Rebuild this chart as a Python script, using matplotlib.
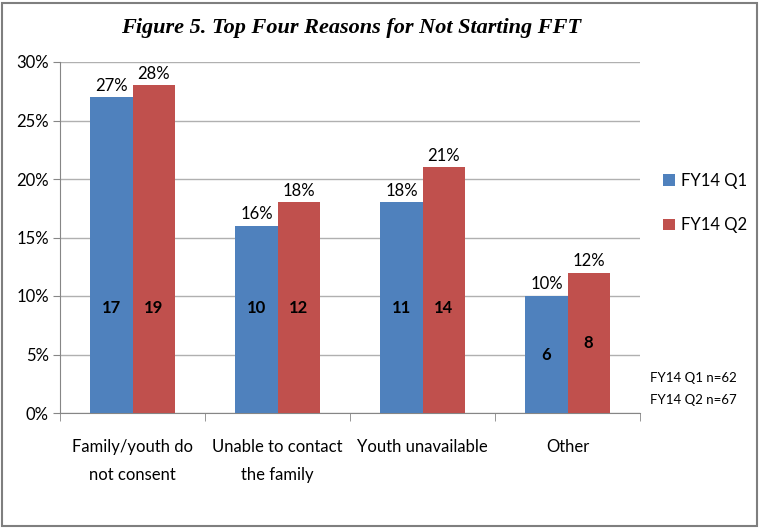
import numpy as np
import matplotlib.pyplot as plt
from matplotlib.patches import Rectangle

categories = ["Family/youth do\nnot consent", "Unable to contact\nthe family", "Youth unavailable", "Other"]
q1_pct = [27, 16, 18, 10]
q2_pct = [28, 18, 21, 12]
q1_n = [17, 10, 11, 6]
q2_n = [19, 12, 14, 8]
series = ["FY14 Q1", "FY14 Q2"]
totals = ["FY14 Q1 n=62", "FY14 Q2 n=67"]
yticks = [0, 5, 10, 15, 20, 25, 30]

blue = "#4F81BD"
red = "#C0504D"
plt.rcParams['font.family'] = ['Lato', 'DejaVu Sans']

fig = plt.figure(figsize=(7.6, 5.29), dpi=100)
ax = fig.add_axes([60 / 760, 1 - 413 / 529, 580 / 760, 351 / 529])

x = np.arange(len(categories))
w = 0.29
b1 = ax.bar(x - w / 2, q1_pct, w, color=blue, label=series[0], zorder=3)
b2 = ax.bar(x + w / 2, q2_pct, w, color=red, label=series[1], zorder=3)

for bars, pcts, ns in [(b1, q1_pct, q1_n), (b2, q2_pct, q2_n)]:
    for r, p, n in zip(bars, pcts, ns):
        cx = r.get_x() + r.get_width() / 2
        ax.text(cx, p + 0.3, f"{p}%", ha="center", va="bottom", fontsize=12)
        # count labels sit mid-bar on short bars, around 9% on the taller ones
        ly = p / 2 if p < 15 else 9
        ax.text(cx, ly, str(n), ha="center", va="center",
                fontsize=12, fontweight="bold")

ax.set_xlim(-0.5, 3.5)
ax.set_ylim(0, 30)
ax.set_yticks(yticks)
ax.set_yticklabels([f"{t}%" for t in yticks], fontsize=12)
ax.set_xticks(x)
ax.set_xticklabels(categories, fontsize=12, linespacing=1.9)
ax.set_xticks(np.arange(-0.5, 4, 1), minor=True)
ax.tick_params(axis="x", which="major", length=0, pad=19)
ax.tick_params(axis="x", which="minor", length=6, color="#868686")
ax.tick_params(axis="y", length=5, color="#868686", pad=3)
ax.grid(axis="y", color="#B0B0B0", linewidth=1, zorder=0)
for s in ["top", "right"]:
    ax.spines[s].set_visible(False)
for s in ["left", "bottom"]:
    ax.spines[s].set_color("#868686")

fig.text(351 / 760, 1 - 28 / 529, "Figure 5. Top Four Reasons for Not Starting FFT",
         ha="center", va="center", fontsize=16, fontweight="bold", fontstyle="italic",
         family=["Liberation Serif", "DejaVu Serif"])

ax.legend(loc="upper left", bbox_to_anchor=(648 / 760, 1 - 158 / 529),
          bbox_transform=fig.transFigure, frameon=False, fontsize=12,
          handlelength=0.7, handleheight=0.7, labelspacing=1.7, handletextpad=0.4)

fig.text(650 / 760, 1 - 378 / 529, totals[0], ha="left", va="center", fontsize=9.5)
fig.text(650 / 760, 1 - 400 / 529, totals[1], ha="left", va="center", fontsize=9.5)

fig.patches.append(Rectangle((2 / 760, 3 / 529), 755 / 760, 523 / 529, transform=fig.transFigure,
                             fill=False, edgecolor="#7F7F7F", linewidth=1.5))

fig.savefig("out.png", dpi=100)
